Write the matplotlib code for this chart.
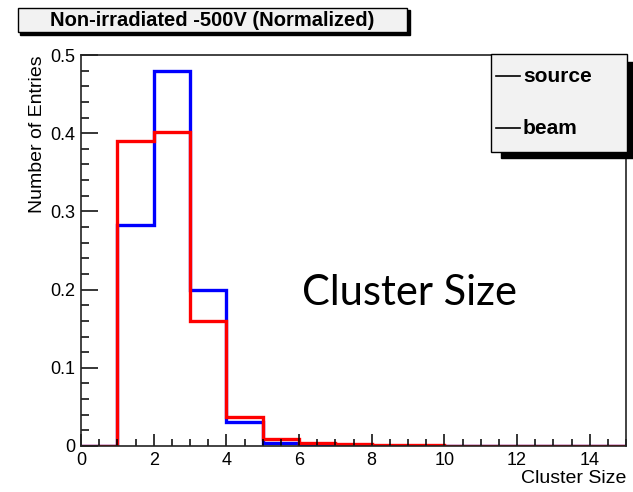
import matplotlib
matplotlib.use('Agg')
import matplotlib.pyplot as plt
from matplotlib.patches import Rectangle
from matplotlib.lines import Line2D
from matplotlib.ticker import MultipleLocator
import numpy as np

# 数据: 每个 bin 的归一化计数
bin_edges = np.arange(0, 16)
source_vals = [0, 0.283, 0.480, 0.200, 0.031, 0.004, 0.002, 0.0005, 0, 0, 0, 0, 0, 0, 0]
beam_vals = [0, 0.390, 0.402, 0.160, 0.037, 0.009, 0.004, 0.002, 0.001, 0.001, 0, 0, 0, 0, 0]
legend_names = ['source', 'beam']
title_text = 'Non-irradiated -500V (Normalized)'

W, H = 633, 492
fig = plt.figure(figsize=(W / 100, H / 100), dpi=100)
plt.rcParams['font.family'] = ['Liberation Sans', 'DejaVu Sans']

# 坐标轴位置 (像素)
left, right, top, bottom = 81, 626, 55, 446
ax = fig.add_axes([left / W, 1 - bottom / H, (right - left) / W, (bottom - top) / H])

ax.stairs(source_vals, bin_edges, color='#0000ff', linewidth=2.4, baseline=0)
ax.stairs(beam_vals, bin_edges, color='#ff0000', linewidth=2.4, baseline=0)

ax.set_xlim(0, 15)
ax.set_ylim(0, 0.5)
ax.xaxis.set_major_locator(MultipleLocator(2))
ax.xaxis.set_minor_locator(MultipleLocator(0.5))
ax.yaxis.set_major_locator(MultipleLocator(0.1))
ax.yaxis.set_minor_locator(MultipleLocator(0.02))
ax.tick_params(axis='x', which='major', direction='in', length=9, width=1.1, labelsize=13, pad=4)
ax.tick_params(axis='x', which='minor', direction='in', length=5, width=1.1)
ax.tick_params(axis='y', which='major', direction='in', length=12, width=1.1, labelsize=13, pad=4)
ax.tick_params(axis='y', which='minor', direction='in', length=6, width=1.1)
ax.set_xticks([0, 2, 4, 6, 8, 10, 12, 14])
ax.set_xticklabels(['0', '2', '4', '6', '8', '10', '12', '14'])
ax.set_yticks([0, 0.1, 0.2, 0.3, 0.4, 0.5])
ax.set_yticklabels(['0', '0.1', '0.2', '0.3', '0.4', '0.5'])
for s in ax.spines.values():
    s.set_linewidth(1.2)
    s.set_color('#222222')

ax.set_xlabel('Cluster Size', fontsize=14, loc='right', labelpad=1)
ax.set_ylabel('Number of Entries', fontsize=14, loc='top', labelpad=3)

# 中间的大字
fig.text(409 / W, 1 - 293 / H, 'Cluster Size', fontsize=30, family=['Lato', 'DejaVu Sans'],
         ha='center', va='center')

# 标题框 (带阴影)
def px_rect(x0, y0, x1, y1, **kw):
    r = Rectangle((x0 / W, 1 - y1 / H), (x1 - x0) / W, (y1 - y0) / H,
                  transform=fig.transFigure, **kw)
    fig.add_artist(r)

px_rect(20, 10, 410, 35, facecolor='black', edgecolor='black', zorder=5)
px_rect(18, 8, 407, 32, facecolor='#f2f2f2', edgecolor='black', linewidth=1, zorder=6)
fig.text(212 / W, 1 - 20 / H, title_text, fontsize=14.5, fontweight='bold',
         ha='center', va='center', zorder=7)

# 图例框 (带阴影)
px_rect(501, 62, 633, 158, facecolor='black', edgecolor='black', zorder=5)
px_rect(491, 54, 627, 152, facecolor='#f2f2f2', edgecolor='black', linewidth=1, zorder=6)
for i, name in enumerate(legend_names):
    yy = 76 + i * 52
    fig.add_artist(Line2D([496 / W, 520 / W], [1 - yy / H, 1 - yy / H], color='black',
                          linewidth=1.2, transform=fig.transFigure, zorder=7))
    fig.text(523 / W, 1 - yy / H, name, fontsize=15, fontweight='bold',
             ha='left', va='center', zorder=7)

fig.savefig('out.png', dpi=100)
